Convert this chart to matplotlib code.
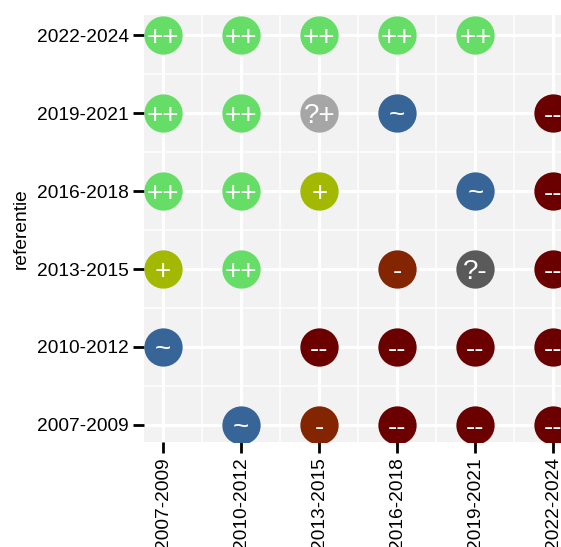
import numpy as np
import matplotlib.pyplot as plt

plt.rcParams['font.family'] = ['Liberation Sans', 'DejaVu Sans']

periods = ['2007-2009', '2010-2012', '2013-2015', '2016-2018', '2019-2021', '2022-2024']

# rows = referentie (bottom to top), columns = x periods
labels = [
    ['',   '~',  '-',  '--', '--', '--'],   # 2007-2009
    ['~',  '',   '--', '--', '--', '--'],   # 2010-2012
    ['+',  '++', '',   '-',  '?-', '--'],   # 2013-2015
    ['++', '++', '+',  '',   '~',  '--'],   # 2016-2018
    ['++', '++', '?+', '~',  '',   '--'],   # 2019-2021
    ['++', '++', '++', '++', '++', ''],     # 2022-2024
]

colors = {
    '++': '#66dd66',
    '+':  '#a3b800',
    '?+': '#a6a6a6',
    '~':  '#376597',
    '?-': '#5a5a5a',
    '-':  '#822500',
    '--': '#6b0000',
}

fig = plt.figure(figsize=(5.61, 5.47), dpi=100)
ax = fig.add_axes([144/561, 105/547, 429/561, 427/547])
ax.set_facecolor('#f2f2f2')

for i, row in enumerate(labels):
    for j, lab in enumerate(row):
        if lab == '':
            continue
        ax.scatter(j, i, s=760, color=colors[lab], zorder=3, linewidths=0)
        ax.text(j, i, lab, color='white', fontsize=20, ha='center',
                va='center_baseline', zorder=4)

ax.set_xlim(-0.245, 5.25)
ax.set_ylim(-0.22, 5.26)
ax.set_xticks(range(len(periods)))
ax.set_xticklabels(periods, rotation=90, fontsize=13.8)
ax.set_yticks(range(len(periods)))
ax.set_yticklabels(periods, fontsize=13.8)
ax.set_xticks(np.arange(0.5, 5.5, 1), minor=True)
ax.set_yticks(np.arange(0.5, 5.5, 1), minor=True)

ax.grid(which='major', color='white', linewidth=2.2, zorder=0)
ax.grid(which='minor', color='white', linewidth=1.1, zorder=0)
ax.set_axisbelow(True)
ax.tick_params(which='major', length=8, width=2, color='black', pad=3)
ax.tick_params(which='minor', length=0)
for s in ax.spines.values():
    s.set_visible(False)

ax.set_ylabel('referentie', fontsize=13.8, labelpad=5)

fig.savefig('out.png', dpi=100)
